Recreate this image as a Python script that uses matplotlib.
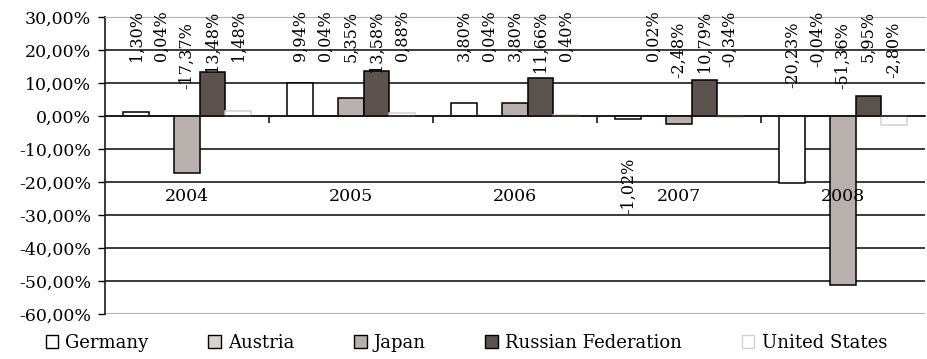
import numpy as np
import matplotlib.pyplot as plt
from matplotlib.patches import Patch

# === data ===
years = ['2004', '2005', '2006', '2007', '2008']
countries = ['Germany', 'Austria', 'Japan', 'Russian Federation', 'United States']
germany = [1.30, 9.94, 3.80, -1.02, -20.23]
austria = [0.04, 0.04, 0.04, 0.02, -0.04]
japan = [-17.37, 5.35, 3.80, -2.48, -51.36]
russia = [13.48, 13.58, 11.66, 10.79, 5.95]
usa = [1.48, 0.88, 0.40, -0.34, -2.80]
y_ticks = [30, 20, 10, 0, -10, -20, -30, -40, -50, -60]

series = [germany, austria, japan, russia, usa]
fills = ['#ffffff', '#d8d2ce', '#b8b0ac', '#5c524e', '#ffffff']
edges = ['#000000', '#000000', '#000000', '#000000', '#d8d0cc']

plt.rcParams['font.family'] = ['DejaVu Serif']
FS = 11.5


def pct(v):
    return f"{v:.2f}%".replace('.', ',')


fig = plt.figure(figsize=(9.27, 3.59), dpi=100)
ax = fig.add_axes([105 / 927, 1 - 314 / 359, 820 / 927, 297 / 359])

x = np.arange(len(years))
w = 0.155
for i, (vals, fc, ec) in enumerate(zip(series, fills, edges)):
    xs = x + (i - 2) * w
    ax.bar(xs, vals, width=w, color=fc, edgecolor=ec, linewidth=1.1, zorder=2)
    for j, (xx, v) in enumerate(zip(xs, vals)):
        # rotated value labels hang from the top of the plot
        if i == 0 and j == 3:
            top = -12.5
        elif v < -1:
            top = 28.5
        else:
            top = 32.0
        ax.text(xx, top, pct(v), rotation=90, ha='center', va='top',
                fontsize=FS, clip_on=False, zorder=4)

# year names sit inside the plot area
for xx, yr in zip(x, years):
    ax.text(xx, -24.5, yr, ha='center', va='center', fontsize=12.5, zorder=4)

ax.set_xlim(-0.5, len(years) - 0.5)
ax.set_ylim(-60, 30)
ax.set_yticks(y_ticks)
ax.set_yticklabels([pct(v) for v in y_ticks], fontsize=12.5)
ax.tick_params(axis='y', direction='out', length=5, width=1, pad=5)

# horizontal gridlines, black, behind the bars
for v in y_ticks[1:-1]:
    ax.axhline(v, color='#1a1a1a', linewidth=1.2, zorder=1)

# category axis crosses at zero with ticks between groups
ax.spines['bottom'].set_position(('data', 0))
ax.spines['bottom'].set_color('#1a1a1a')
ax.spines['bottom'].set_linewidth(1.2)
ax.spines['bottom'].set_zorder(3)
ax.set_xticks(np.arange(len(years) - 1) + 0.5)
ax.set_xticklabels([])
ax.tick_params(axis='x', direction='out', length=5, width=1.2, color='#1a1a1a')

ax.spines['left'].set_color('#1a1a1a')
ax.spines['left'].set_linewidth(1.2)
ax.spines['top'].set_color('#b8b0ac')
ax.spines['right'].set_visible(False)
ax.axhline(-60, color='#b8b0ac', linewidth=1.5, zorder=1)

handles = [Patch(facecolor=fc, edgecolor=ec, linewidth=1) for fc, ec in zip(fills, edges)]
fig.legend(handles, countries, loc='center', bbox_to_anchor=(0.503, 0.045), ncol=5,
           frameon=False, fontsize=13, handlelength=0.7, handleheight=0.7,
           handletextpad=0.4, columnspacing=3.3)

fig.savefig('out.png', dpi=100)
plt.close()
